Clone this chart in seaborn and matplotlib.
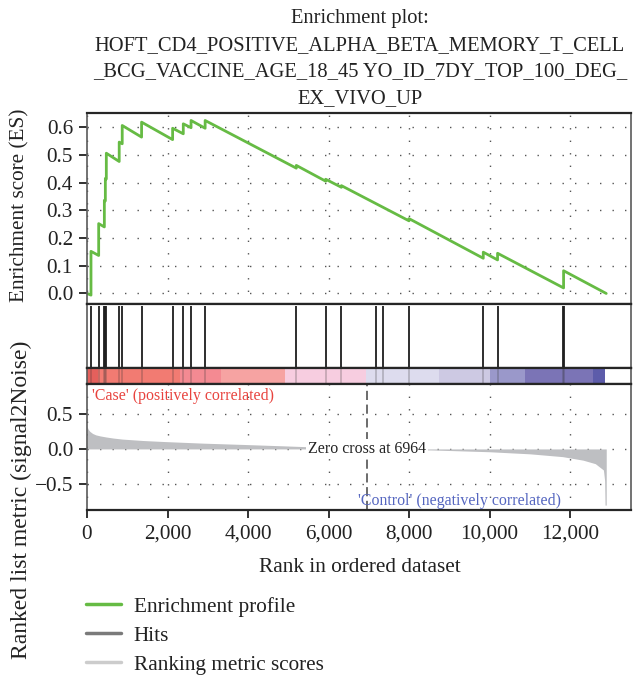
import matplotlib
matplotlib.use("Agg")
import matplotlib.pyplot as plt
from matplotlib.lines import Line2D
import numpy as np
import pandas as pd
import seaborn as sns

# ---------------- data ----------------
title_text = ("Enrichment plot:\nHOFT_CD4_POSITIVE_ALPHA_BETA_MEMORY_T_CELL\n"
              "_BCG_VACCINE_AGE_18_45 YO_ID_7DY_TOP_100_DEG_\nEX_VIVO_UP")

# running enrichment score vertices (rank, ES)
es_rank = [0, 99, 99, 290, 290, 431, 431, 456, 456, 480, 480, 800, 800, 875, 875,
           1356, 1356, 2127, 2127, 2392, 2392, 2585, 2585, 2935, 2935, 5200, 5200,
           5930, 5930, 6320, 6320, 8000, 8000, 9845, 9845, 10200, 10200, 11840, 11840, 12900]
es_score = [0.0, -0.006, 0.152, 0.137, 0.252, 0.240, 0.336, 0.334, 0.415, 0.413, 0.506,
            0.476, 0.546, 0.540, 0.606, 0.564, 0.618, 0.555, 0.596, 0.576, 0.612, 0.598,
            0.624, 0.596, 0.624, 0.452, 0.462, 0.405, 0.412, 0.383, 0.389, 0.262, 0.270,
            0.127, 0.149, 0.121, 0.145, 0.020, 0.082, 0.0]

# gene-set hit positions
hit_ranks = [99, 290, 431, 456, 480, 800, 875, 1356, 2127, 2392, 2585, 2935, 5200,
             5930, 6320, 7180, 7357, 8000, 9845, 10200, 11830, 11850]

# ranked list metric (signal2Noise)
metric_rank = [0, 30, 70, 140, 220, 330, 475, 650, 880, 1390, 1890, 2900, 3920, 4930,
               5440, 6000, 6500, 6964, 7500, 8577, 9995, 11008, 11818, 12324, 12628,
               12830, 12860, 12870, 12900]
metric_value = [0.32, 0.28, 0.25, 0.22, 0.20, 0.185, 0.17, 0.155, 0.14, 0.12, 0.106,
                0.082, 0.063, 0.043, 0.032, 0.020, 0.010, 0.0, -0.006, -0.015, -0.04,
                -0.07, -0.11, -0.16, -0.21, -0.30, -0.45, -0.80, -0.80]

# heat bar segments
cbar_start = [0, 268, 2301, 3317, 4927, 6924, 8753, 10008, 10874, 12571]
cbar_end = [268, 2301, 3317, 4927, 6924, 8753, 10008, 10874, 12571, 12862]
cbar_colors = ["#e4605c", "#f27b72", "#f48a92", "#f6a3a2", "#f7cde0", "#dddcee",
               "#cdc9e3", "#9a98ca", "#7b74b6", "#5d5caa"]

zero_cross = 6964
x_ticks = [0, 2000, 4000, 6000, 8000, 10000, 12000]
x_tick_labels = ["0", "2,000", "4,000", "6,000", "8,000", "10,000", "12,000"]
es_ticks = [0.0, 0.1, 0.2, 0.3, 0.4, 0.5, 0.6]
es_tick_labels = ["0.0", "0.1", "0.2", "0.3", "0.4", "0.5", "0.6"]
metric_ticks = [-0.5, 0.0, 0.5]
metric_tick_labels = ["\u22120.5", "0.0", "0.5"]
legend_labels = ["Enrichment profile", "Hits", "Ranking metric scores"]

# ---------------- styling ----------------
sns.set_style("white")
plt.rcParams["font.family"] = ["Liberation Serif", "DejaVu Serif"]
plt.rcParams["text.color"] = "#222222"

GREEN = "#66bb44"
GRID = dict(linestyle=(0, (1, 8)), color="#555555", linewidth=1.0)
XMAX = 13515
FS = 15.3      # main font size
FS_SMALL = 11.4

W, H = 638, 678
fig = plt.figure(figsize=(W / 100, H / 100), dpi=100)

def box(top, bottom):
    return [87 / W, 1 - bottom / H, (631 - 87) / W, (bottom - top) / H]

ax1 = fig.add_axes(box(113, 304))
ax2 = fig.add_axes(box(304, 368))
ax3 = fig.add_axes(box(368, 384))
ax4 = fig.add_axes(box(384, 510))

def style_spines(ax):
    for s in ["top", "bottom"]:
        ax.spines[s].set_color("#262626")
        ax.spines[s].set_linewidth(1.6)
    for s in ["left", "right"]:
        ax.spines[s].set_color("#5a5a5a")
        ax.spines[s].set_linewidth(1.2)

# ---- panel 1: enrichment score
es_df = pd.DataFrame({"rank": es_rank, "es": es_score})
sns.lineplot(data=es_df, x="rank", y="es", ax=ax1, sort=False, estimator=None,
             color=GREEN, linewidth=2.0)
ax1.set_xlim(0, XMAX)
ax1.set_ylim(-0.038, 0.651)
ax1.set_yticks(es_ticks)
ax1.set_yticklabels(es_tick_labels)
ax1.set_xticks(x_ticks)
ax1.tick_params(axis="x", length=0, labelbottom=False)
ax1.grid(True, **GRID)
ax1.set_xlabel("")
ax1.set_ylabel("")

# ---- panel 2: hits
ax2.vlines(hit_ranks, 0.0, 0.965, color="#1e1e1e", linewidth=1.3)
ax2.set_xlim(0, XMAX)
ax2.set_ylim(0, 1)
ax2.set_xticks([])
ax2.set_yticks([])

# ---- panel 3: heat bar
for s, e, c in zip(cbar_start, cbar_end, cbar_colors):
    ax3.axvspan(s, e, color=c, lw=0)
ax3.vlines(hit_ranks, 0, 1, color="#333333", alpha=0.25, linewidth=1.3)
ax3.set_xlim(0, XMAX)
ax3.set_ylim(0, 1)
ax3.set_xticks([])
ax3.set_yticks([])

# ---- panel 4: ranked list metric
ax4.fill_between(metric_rank, 0, metric_value, color="#bebfc2", lw=0)
ax4.set_xlim(0, XMAX)
ax4.set_ylim(-0.87, 0.925)
ax4.set_yticks(metric_ticks)
ax4.set_yticklabels(metric_tick_labels)
ax4.set_xticks(x_ticks)
ax4.set_xticklabels(x_tick_labels)
ax4.grid(True, **GRID)
ax4.axvline(zero_cross, color="#444444", lw=1.1, ls=(0, (6, 3)))
ax4.text(zero_cross, 0.0, f"Zero cross at {zero_cross}", ha="center", va="center",
         fontsize=FS_SMALL, color="#222222",
         bbox=dict(facecolor="white", edgecolor="none", pad=1.5))
ax4.text(0.009, 0.965, "'Case' (positively correlated)", transform=ax4.transAxes,
         ha="left", va="top", fontsize=FS_SMALL, color="#e8433e")
ax4.text(0.871, 0.075, "'Control' (negatively correlated)", transform=ax4.transAxes,
         ha="right", va="center", fontsize=FS_SMALL, color="#5566c0")

for ax in (ax1, ax2, ax3, ax4):
    style_spines(ax)
for ax in (ax1, ax4):
    ax.tick_params(axis="y", direction="out", length=6, width=1.3, color="#222222",
                   labelsize=FS, labelcolor="#222222", left=True, pad=4)
ax4.tick_params(axis="x", direction="out", length=6, width=1.3, color="#222222",
                labelsize=FS, labelcolor="#222222", bottom=True, pad=4.5)

# ---- texts
fig.text(360 / W, 1 - 9.5 / H, title_text, ha="center", va="top", fontsize=14.8,
         linespacing=1.53, color="#222222")
fig.text(20 / W, 1 - 205 / H, "Enrichment score (ES)", rotation=90, ha="center",
         va="center", fontsize=FS, color="#222222")
fig.text(21 / W, 1 - 500 / H, "Ranked list metric (signal2Noise)", rotation=90,
         ha="center", va="center", fontsize=17.0, color="#222222")
fig.text(360 / W, 1 - 567 / H, "Rank in ordered dataset", ha="center", va="center",
         fontsize=FS, color="#222222")

handles = [Line2D([], [], color=GREEN, lw=2.5),
           Line2D([], [], color="#7a7a7a", lw=2.5),
           Line2D([], [], color="#cccccc", lw=2.5)]
fig.legend(handles, legend_labels, loc="upper left",
           bbox_to_anchor=(86 / W, 1 - 597 / H), frameon=False, fontsize=FS,
           handlelength=1.65, handletextpad=0.6, labelspacing=0.42, borderpad=0,
           borderaxespad=0)

fig.savefig("out.png", dpi=100)
